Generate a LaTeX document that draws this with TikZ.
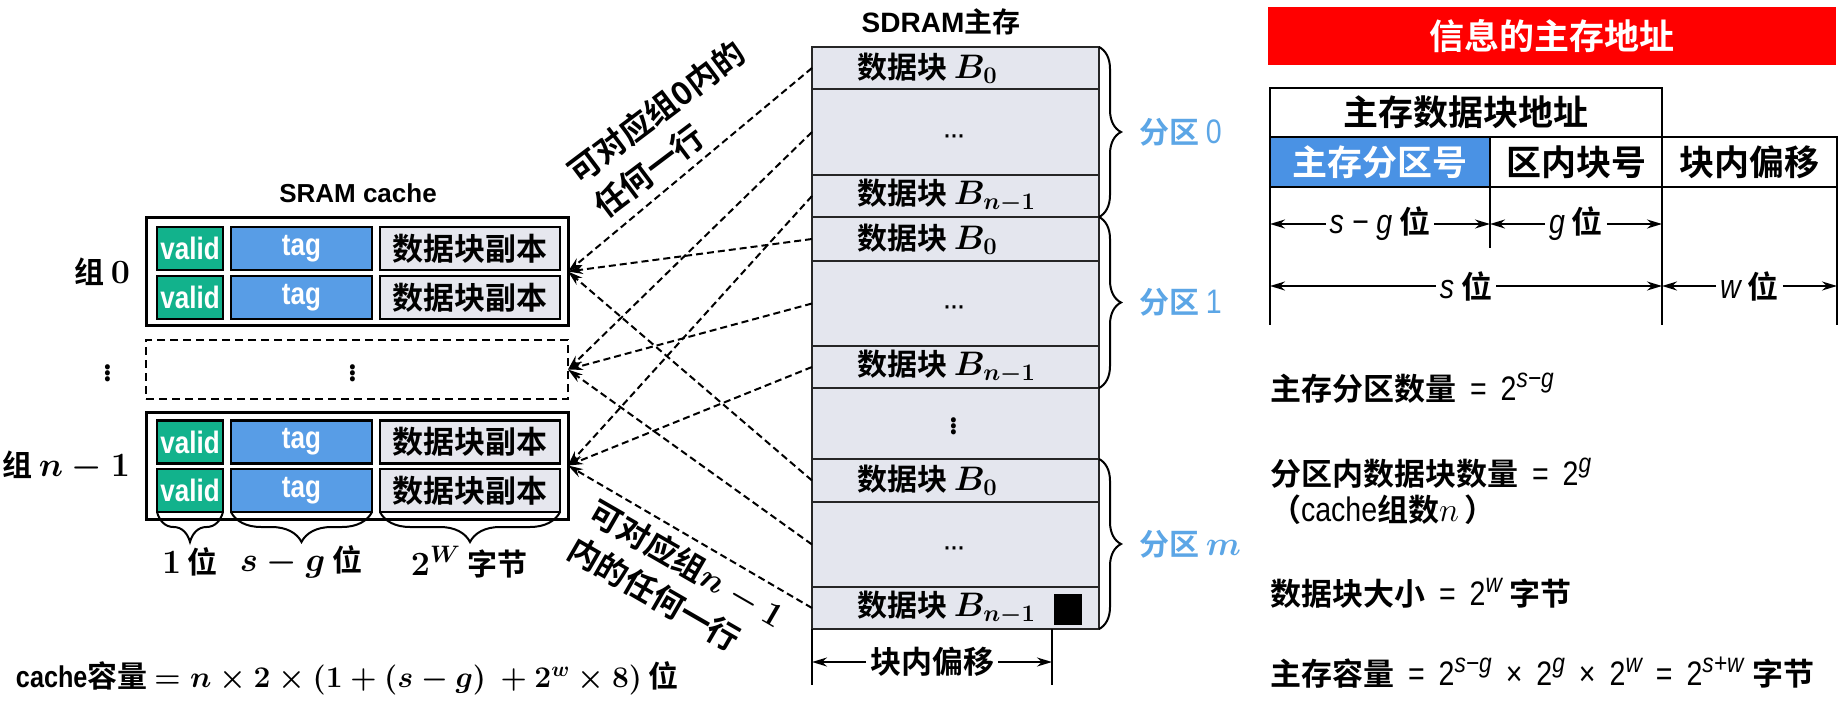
\RequirePackage{fix-cm}
\documentclass[tikz,border=0pt]{standalone}
\usepackage[no-math]{fontspec}
\setmainfont{Noto Sans CJK SC}[BoldFont={* Bold}]
\newfontfamily\nar{Liberation Sans}[FakeStretch=0.84]
\newfontfamily\arl{Liberation Sans}
\usetikzlibrary{arrows.meta,decorations.pathreplacing}
\definecolor{validc}{RGB}{18,178,140}
\definecolor{tagc}{RGB}{88,157,230}
\definecolor{datac}{RGB}{230,231,238}
\definecolor{memc}{RGB}{228,230,238}
\definecolor{partc}{RGB}{92,166,230}
\definecolor{addrc}{RGB}{74,146,228}
\newcommand\fs[1]{\fontsize{#1}{#1}\selectfont}
\newcommand\M[1]{{\fontsize{34}{34}\selectfont\boldmath$#1$}}
\newcommand\rl[1]{\hspace{14pt}#1\hspace{14pt}}
\newcommand\sups[1]{\raisebox{13pt}{\fontsize{27}{27}\selectfont\itshape #1}}
\newcommand\fm[1]{{\nar\mdseries\fontsize{34}{34}\selectfont #1}}
\newcommand\hdots{{\arl\fontsize{30}{30}\selectfont ·\kern-3pt·\kern-3pt·}}
\begin{document}
\begin{tikzpicture}[x=1pt,y=-1pt,
 every node/.style={inner sep=0pt,outer sep=0pt},
 outerbox/.style={draw,line width=3pt,minimum width=422,minimum height=107},
 vcell/.style={draw,line width=2.5pt,fill=validc,minimum width=66,minimum height=43,text=white,font=\nar\bfseries\fs{31}},
 tcell/.style={draw,line width=2.5pt,fill=tagc,minimum width=141,minimum height=43,text=white,font=\nar\bfseries\fs{31}},
 dcell/.style={draw,line width=2.5pt,fill=datac,minimum width=180,minimum height=43,font=\bfseries\fs{31}},
 memrow/.style={draw=black!85,line width=2pt,fill=memc,minimum width=287},
 memtxt/.style={anchor=west,font=\bfseries\fs{30}},
 lbl/.style={font=\bfseries\fs{30}\boldmath},
 vdts/.style={font=\bfseries\fs{27}\boldmath},
 part/.style={anchor=west,text=partc,font=\bfseries\fs{30}},
 link/.style={dash pattern=on 7pt off 4pt,line width=2pt,-{Stealth[length=15pt,width=9pt]}},
 brc/.style={decorate,decoration={brace,amplitude=#1},line width=2pt},
 dimarr/.style={line width=2pt,-{Stealth[length=15pt,width=9pt]}},
 acell/.style={draw,line width=2.5pt,minimum height=50,font=\bfseries\fs{35}},
 tline/.style={line width=2.5pt},
 dimtxt/.style={fill=white,inner xsep=4pt,font=\bfseries\fs{31}},
 fr/.style={anchor=west,font=\bfseries\fs{31}},
]
\useasboundingbox (0,0) rectangle (1843,711);
\fill[white] (0,0) rectangle (1843,711);

% ---------- SRAM cache ----------
\node[font=\arl\bfseries\fs{26}] (sram) at (358,193) {SRAM cache};
\node[outerbox] (g0) at (357,271.5) {};
\node[vcell] (v00) at (190,248.5) {valid};
\node[tcell] (t00) at (301.5,248.5) {tag};
\node[dcell] (d00) at (470,248.5) {数据块副本};
\node[vcell] (v01) at (190,297.5) {valid};
\node[tcell] (t01) at (301.5,297.5) {tag};
\node[dcell] (d01) at (470,297.5) {数据块副本};

\node[draw,dash pattern=on 8pt off 5pt,line width=2pt,minimum width=422,minimum height=59] (gd) at (357,369.5) {};
\node[vdts] (gdots) at (353,370) {$\vdots$};
\node[vdts] (ldots) at (108,370) {$\vdots$};

\node[outerbox] (gn) at (357,465.5) {};
\node[vcell] (v10) at (190,442) {valid};
\node[tcell] (t10) at (301.5,442) {tag};
\node[dcell] (d10) at (470,442) {数据块副本};
\node[vcell] (v11) at (190,490.5) {valid};
\node[tcell] (t11) at (301.5,490.5) {tag};
\node[dcell] (d11) at (470,490.5) {数据块副本};

\node[lbl,anchor=east] (lg0) at (130,271.5) {组 \M{0}};
\node[lbl,anchor=east] (lgn) at (130,465.5) {组 \M{n-1}};

\draw[brc=30pt] (v11.south east) -- (v11.south west);
\draw[brc=30pt] (t11.south east) -- (t11.south west);
\draw[brc=30pt] (d11.south east) -- (d11.south west);
\node[lbl] (b1) at (190,562) {\M{1} 位};
\node[lbl] (b2) at (301,562) {\M{s-g} 位};
\node[lbl] (b3) at (469,562) {\M{2^W} 字节};

\node[lbl,anchor=west] (cf) at (16,678) {{\nar cache}容量 $=n\times 2\times(1+(s-g)\ +2^w\times 8)$ 位};

% ---------- SDRAM ----------
\node[font=\bfseries\fs{28}] (sdram) at (941,22) {{\arl SDRAM}主存};
\node[memrow,minimum height=42] (m1) at (955.5,68) {};
\node[memrow,minimum height=86] (m2) at (955.5,132) {};
\node[memrow,minimum height=42] (m3) at (955.5,196) {};
\node[memrow,minimum height=44] (m4) at (955.5,239) {};
\node[memrow,minimum height=85] (m5) at (955.5,303.5) {};
\node[memrow,minimum height=42] (m6) at (955.5,367) {};
\node[memrow,minimum height=71] (m7) at (955.5,423.5) {};
\node[memrow,minimum height=43] (m8) at (955.5,480.5) {};
\node[memrow,minimum height=85] (m9) at (955.5,544.5) {};
\node[memrow,minimum height=42] (m10) at (955.5,608) {};

\node[memtxt] (t1) at (857,68) {数据块 \M{B_0}};
\node (t2) at (954,140) {\hdots};
\node[memtxt] (t3) at (857,196) {数据块 \M{B_{n-1}}};
\node[memtxt] (t4) at (857,239) {数据块 \M{B_0}};
\node (t5) at (954,311) {\hdots};
\node[memtxt] (t6) at (857,367) {数据块 \M{B_{n-1}}};
\node[vdts] (t7) at (954,423) {$\vdots$};
\node[memtxt] (t8) at (857,480.5) {数据块 \M{B_0}};
\node (t9) at (954,552) {\hdots};
\node[memtxt] (t10) at (857,608) {数据块 \M{B_{n-1}}};
\node[fill=black,minimum width=28,minimum height=31] (blk) at (1068,609) {};

\coordinate (ol) at (812,685);
\coordinate (orr) at (1052,685);
\coordinate (ort) at (1052,629);
\coordinate (bol) at (812,662);
\coordinate (bor) at (1052,662);
\draw[line width=2pt] (m10.south west) -- (ol);
\draw[line width=2pt] (ort) -- (orr);
\node[dimtxt,font=\bfseries\fs{31}] (bo) at (932,662) {块内偏移};
\draw[dimarr] (bo.west) -- (bol);
\draw[dimarr] (bo.east) -- (bor);

\draw[brc=22pt] (m1.north east) -- (m3.south east);
\draw[brc=22pt] (m4.north east) -- (m6.south east);
\draw[brc=22pt] (m8.north east) -- (m10.south east);
\node[part] (p0) at (1139,132) {分区 {\nar\mdseries\fs{34}0}};
\node[part] (p1) at (1139,302) {分区 {\nar\mdseries\fs{34}1}};
\node[part] (pm) at (1139,544) {分区 \M{m}};

% ---------- links ----------
\draw[link] (m1.west) -- (g0.east);
\draw[link] (m4.west) -- (g0.east);
\draw[link] (m8.west) -- (g0.east);
\draw[link] (m2.west) -- (gd.east);
\draw[link] (m5.west) -- (gd.east);
\draw[link] (m9.west) -- (gd.east);
\draw[link] (m3.west) -- (gn.east);
\draw[link] (m6.west) -- (gn.east);
\draw[link] (m10.west) -- (gn.east);

\node[rotate=37,align=left,font=\bfseries\fontsize{32}{43}\selectfont] (r1) at (669,129) {可对应组0内的\\任何一行};
\node[rotate=-30,align=left,font=\bfseries\fontsize{32}{43}\selectfont] (r2) at (677,582) {可对应组\M{n-1}\\内的任何一行};

% ---------- address ----------
\node[fill=red,minimum width=568,minimum height=58,text=white,font=\bfseries\fs{35}] (title) at (1552,36) {信息的主存地址};
\node[acell,minimum width=392,minimum height=49] (ah) at (1466,112.5) {主存数据块地址};
\node[acell,minimum width=220,fill=addrc,text=white] (a1) at (1380,162) {主存分区号};
\node[acell,minimum width=172] (a2) at (1576,162) {区内块号};
\node[acell,minimum width=175] (a3) at (1749.5,162) {块内偏移};
\coordinate (v1b) at (1270,325);
\coordinate (v2b) at (1490,248);
\coordinate (v3b) at (1662,325);
\coordinate (v4b) at (1837,325);
\draw[tline] (a1.south west) -- (v1b);
\draw[tline] (a1.south east) -- (v2b);
\draw[tline] (a2.south east) -- (v3b);
\draw[tline] (a3.south east) -- (v4b);

\coordinate (sgL) at (1270,224);
\coordinate (sgR) at (1490,224);
\coordinate (gR) at (1662,224);
\coordinate (sL) at (1270,286);
\coordinate (sR) at (1662,286);
\coordinate (wR) at (1837,286);
\node[dimtxt] (sg) at (1380,224) {\fm{\itshape s − g} 位};
\node[dimtxt] (gg) at (1576,224) {\fm{\itshape g} 位};
\node[dimtxt] (ss) at (1466,286) {\fm{\itshape s} 位};
\node[dimtxt] (ww) at (1749.5,286) {\fm{\itshape w} 位};
\draw[dimarr] (sg.west) -- (sgL);
\draw[dimarr] (sg.east) -- (sgR);
\draw[dimarr] (gg.west) -- (sgR);
\draw[dimarr] (gg.east) -- (gR);
\draw[dimarr] (ss.west) -- (sL);
\draw[dimarr] (ss.east) -- (sR);
\draw[dimarr] (ww.west) -- (sR);
\draw[dimarr] (ww.east) -- (wR);

\node[fr] (f1) at (1270,388) {主存分区数量\fm{\rl{=}2\sups{s−g}}};
\node[fr] (f2) at (1270,473) {分区内数据块数量\fm{\rl{=}2\sups{g}}};
\node[fr] (f3) at (1270,510) {（\fm{cache}组数{\fs{34}$n$}\,）};
\node[fr] (f4) at (1270,593) {数据块大小\fm{\rl{=}2\sups{w}}\hspace{8pt}字节};
\node[fr] (f5) at (1270,673) {主存容量\fm{\rl{=}2\sups{s−g}\rl{×}2\sups{g}\rl{×}2\sups{w}\rl{=}2\sups{s+w}}\hspace{9pt}字节};
\end{tikzpicture}
\end{document}
